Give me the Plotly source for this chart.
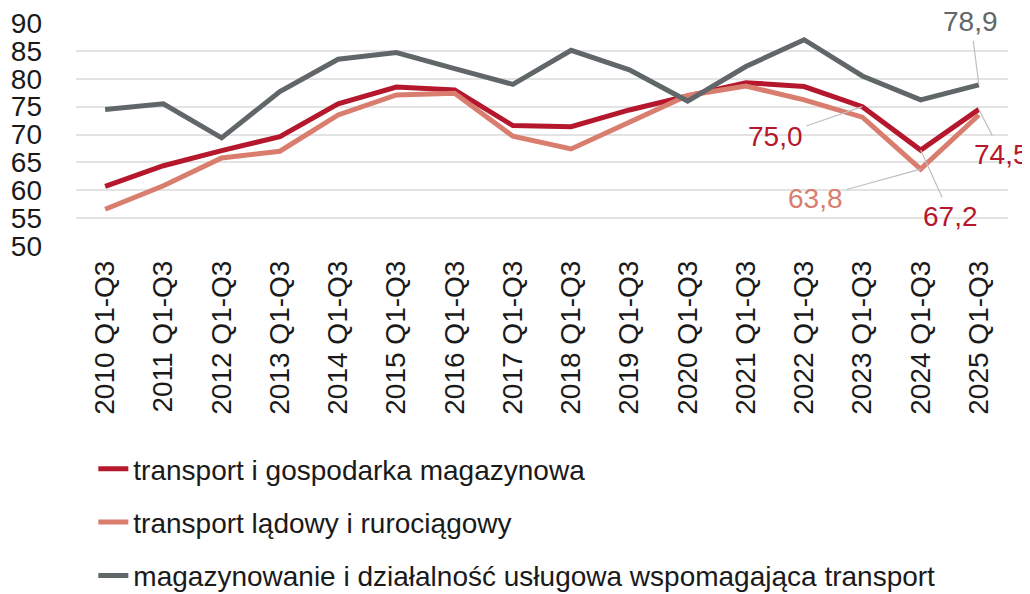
import plotly.graph_objects as go

categories = [f"{y} Q1-Q3" for y in range(2010, 2026)]
transport_gosp = [60.7, 64.4, 67.1, 69.6, 75.5, 78.5, 78.0, 71.6, 71.4, 74.4, 76.9, 79.3, 78.6, 75.0, 67.2, 74.5]
transport_lad = [56.6, 60.8, 65.8, 67.0, 73.5, 77.1, 77.4, 69.7, 67.4, 72.3, 77.0, 78.7, 76.2, 73.1, 63.8, 73.5]
magazynowanie = [74.5, 75.5, 69.4, 77.7, 83.5, 84.7, 81.8, 79.0, 85.1, 81.6, 76.0, 82.2, 87.0, 80.5, 76.2, 78.9]
names = ["transport i gospodarka magazynowa", "transport lądowy i rurociągowy",
         "magazynowanie i działalność usługowa wspomagająca transport"]
y_ticks = [50, 55, 60, 65, 70, 75, 80, 85, 90]

RED = "#B5172C"
PINK = "#D97D6E"
GRAY = "#616769"
FONT = "Liberation Sans, Arial, sans-serif"

fig = go.Figure()
for i, (vals, col) in enumerate([(transport_gosp, RED), (transport_lad, PINK), (magazynowanie, GRAY)]):
    fig.add_trace(go.Scatter(x=categories, y=vals, mode="lines", name=names[i],
                             line=dict(color=col, width=5), legendgroup=f"g{i}"))

# labels: (series, index, color, ax, ay)
labels = [
    (magazynowanie, 15, GRAY, -8, -63),
    (transport_gosp, 13, RED, -87, 30),
    (transport_lad, 14, PINK, -105, 29),
    (transport_gosp, 14, RED, 30, 66),
    (transport_gosp, 15, RED, 23, 45),
]
for vals, idx, col, ax, ay in labels:
    fig.add_annotation(x=categories[idx], y=vals[idx], text=f"{vals[idx]:.1f}".replace(".", ","),
                       showarrow=True, arrowhead=0, arrowwidth=1.2, arrowcolor="#BFBFBF",
                       ax=ax, ay=ay, standoff=0, startstandoff=2,
                       font=dict(family=FONT, size=28, color=col))

# page body has an 8px margin, so the figure is sized to fill the rest of the window
fig.update_layout(
    width=1022, height=586,
    margin=dict(l=68, r=22, t=15, b=348, autoexpand=False),
    paper_bgcolor="white", plot_bgcolor="white",
    font=dict(family=FONT, size=28, color="#1a1a1a"),
    showlegend=True,
    legend=dict(orientation="v", x=0.0186, y=-0.888,
                xanchor="left", yanchor="top", tracegroupgap=14,
                font=dict(family=FONT, size=28, color="#1a1a1a"), bgcolor="rgba(0,0,0,0)"),
)
fig.update_xaxes(type="category", range=[-0.5, 15.5], tickangle=-90, showgrid=False, showline=False,
                 ticks="", ticklabelstandoff=8, tickfont=dict(family=FONT, size=28, color="#1a1a1a"))
fig.update_yaxes(range=[50, 90], tickvals=y_ticks, showgrid=True, gridcolor="#E3E3E3", gridwidth=1.5,
                 zeroline=False, showline=False, ticks="", ticklabelstandoff=33,
                 ticklabeloverflow="allow",
                 tickfont=dict(family=FONT, size=28, color="#1a1a1a"))

fig.write_html("out.html")
